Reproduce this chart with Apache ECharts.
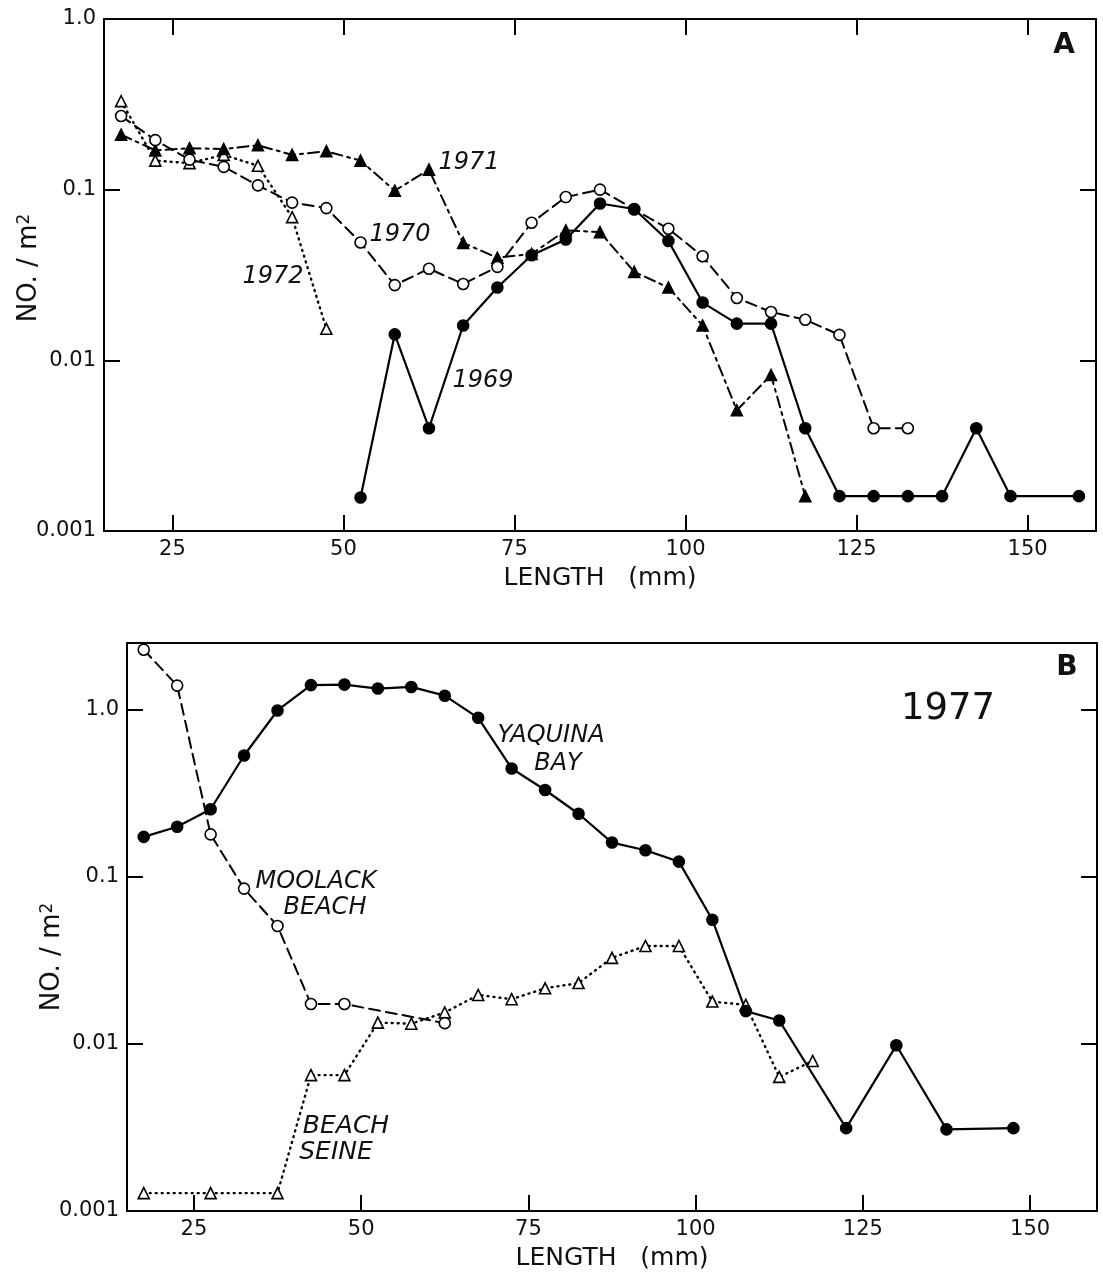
<!DOCTYPE html>
<html>
<head>
<meta charset="utf-8">
<script src="https://cdn.jsdelivr.net/npm/echarts@6/dist/echarts.min.js"></script>
<style>
html,body{margin:0;padding:0;background:#fff;}
#chart{width:1103px;height:1275px;}
</style>
</head>
<body>
<div id="chart"></div>
<script>
// ===== Panel A : density (NO./m^2) by length class (mm) =====
const lengthA1969  = [52.5,57.5,62.5,67.5,72.5,77.5,82.5,87.5,92.5,97.5,102.5,107.5,112.5,117.5,122.5,127.5,132.5,137.5,142.5,147.5,157.5];
const densityA1969 = [0.00157,0.0142,0.0040,0.016,0.0267,0.0413,0.051,0.083,0.077,0.050,0.0218,0.0164,0.0164,0.0040,0.0016,0.0016,0.0016,0.0016,0.0040,0.0016,0.0016];

const lengthA1970  = [17.5,22.5,27.5,32.5,37.5,42.5,47.5,52.5,57.5,62.5,67.5,72.5,77.5,82.5,87.5,92.5,97.5,102.5,107.5,112.5,117.5,122.5,127.5,132.5];
const densityA1970 = [0.27,0.195,0.15,0.136,0.106,0.084,0.078,0.049,0.0276,0.0344,0.028,0.0353,0.064,0.0905,0.100,0.0766,0.059,0.0407,0.0232,0.0192,0.0173,0.0141,0.0040,0.0040];

const lengthA1971  = [17.5,22.5,27.5,32.5,37.5,42.5,47.5,52.5,57.5,62.5,67.5,72.5,77.5,82.5,87.5,92.5,97.5,102.5,107.5,112.5,117.5];
const densityA1971 = [0.21,0.17,0.175,0.173,0.182,0.16,0.168,0.148,0.0986,0.131,0.0488,0.0399,0.042,0.0577,0.0564,0.033,0.0267,0.016,0.0051,0.0082,0.0016];

const lengthA1972  = [17.5,22.5,27.5,32.5,37.5,42.5,47.5];
const densityA1972 = [0.33,0.148,0.143,0.16,0.138,0.069,0.0153];

// ===== Panel B : 1977 =====
const lengthYaquina  = [17.5,22.5,27.5,32.5,37.5,42.5,47.5,52.5,57.5,62.5,67.5,72.5,77.5,82.5,87.5,92.5,97.5,102.5,107.5,112.5,122.5,130,137.5,147.5];
const densityYaquina = [0.173,0.199,0.253,0.531,0.987,1.40,1.41,1.335,1.365,1.21,0.892,0.444,0.33,0.238,0.160,0.144,0.123,0.0553,0.0157,0.0138,0.00313,0.0098,0.00308,0.00313];

const lengthMoolack  = [17.5,22.5,27.5,32.5,37.5,42.5,47.5,62.5];
const densityMoolack = [2.28,1.39,0.179,0.0848,0.0507,0.0173,0.0173,0.0133];

const lengthSeine  = [17.5,27.5,37.5,42.5,47.5,52.5,57.5,62.5,67.5,72.5,77.5,82.5,87.5,92.5,97.5,102.5,107.5,112.5,117.5];
const densitySeine = [0.00128,0.00128,0.00128,0.0065,0.0065,0.0134,0.0132,0.0154,0.0196,0.0185,0.0215,0.0231,0.0327,0.0385,0.0385,0.0179,0.0171,0.00634,0.0079];

// ===== Axis ticks / labels =====
const xTickValues = [25,50,75,100,125,150];
const yTickValues = [0.001,0.01,0.1,1];
const yTickLabels = ['0.001','0.01','0.1','1.0'];
const xAxisTitle = 'LENGTH   (mm)';
const yAxisTitle = '{n|NO. / m}{sup|2}';

const FONT = 'DejaVu Sans';
const INK = '#111';

function pairs(xs, ys){ return xs.map((x,i)=>[x, ys[i]]); }
function yLabel(v){
  const i = yTickValues.findIndex(t => Math.abs(Math.log10(v) - Math.log10(t)) < 1e-6);
  return i < 0 ? '' : yTickLabels[i];
}
const axisLineStyle = {color:'#000', width:2};

function bottomX(g){
  return {type:'value', gridIndex:g, position:'bottom', min:15, max:160,
    axisLine:{show:true, onZero:false, lineStyle:axisLineStyle},
    axisTick:{show:true, inside:true, length:16, customValues:xTickValues, lineStyle:axisLineStyle},
    axisLabel:{show:true, customValues:xTickValues, margin:8, color:INK, fontSize:21, fontFamily:FONT},
    splitLine:{show:false},
    name:xAxisTitle, nameLocation:'middle', nameGap:35, nameMoveOverlap:false,
    nameTextStyle:{fontSize:25, color:INK, fontFamily:FONT}};
}
function topX(g, ticks){
  return {type:'value', gridIndex:g, position:'top', min:15, max:160,
    axisLine:{show:true, onZero:false, lineStyle:axisLineStyle},
    axisTick:{show:ticks, inside:true, length:16, customValues:xTickValues, lineStyle:axisLineStyle},
    axisLabel:{show:false}, splitLine:{show:false}};
}
function leftY(g, max, namePad){
  return {type:'log', logBase:10, gridIndex:g, position:'left', min:0.001, max:max,
    axisLine:{show:true, onZero:false, lineStyle:axisLineStyle},
    axisTick:{show:true, inside:true, length:16, lineStyle:axisLineStyle},
    axisLabel:{show:true, margin:8, color:INK, fontSize:21, fontFamily:FONT, formatter:yLabel},
    splitLine:{show:false}, minorTick:{show:false},
    name:yAxisTitle, nameLocation:'middle', nameGap:62, nameRotate:90, nameMoveOverlap:false,
    nameTextStyle:{color:INK, fontFamily:FONT, padding:namePad,
      rich:{n:{fontSize:26, color:INK, fontFamily:FONT},
            sup:{fontSize:17, color:INK, fontFamily:FONT, verticalAlign:'top'}}}};
}
function rightY(g, max){
  return {type:'log', logBase:10, gridIndex:g, position:'right', min:0.001, max:max,
    axisLine:{show:true, onZero:false, lineStyle:axisLineStyle},
    axisTick:{show:true, inside:true, length:16, lineStyle:axisLineStyle},
    axisLabel:{show:false}, splitLine:{show:false}, minorTick:{show:false}};
}

const styles = {
  solidDot:   {symbol:'circle',   size:11, fill:'#000', dash:'solid', width:2.2},
  dashCircle: {symbol:'circle',   size:11, fill:'#fff', dash:[11,6], width:2},
  dashDotTri: {symbol:'triangle', size:11, fill:'#000', dash:[11,5,3,5], width:2},
  dotTri:     {symbol:'triangle', size:11, fill:'#fff', dash:[1,5], width:2.4}
};
function series(name, xs, ys, xi, yi, st){
  return {name:name, type:'line', xAxisIndex:xi, yAxisIndex:yi, data:pairs(xs, ys),
    symbol:st.symbol, symbolSize:st.size, showSymbol:true, animation:false, silent:true,
    lineStyle:{color:'#000', width:st.width, type:st.dash, cap:'round'},
    itemStyle:{color:st.fill, borderColor:'#000', borderWidth:1.6}};
}

function txt(text, x, y, size, style, weight){
  return {type:'text', x:x, y:y, silent:true, z:100,
    style:{text:text, fill:INK, font:(style||'normal')+' '+(weight||'normal')+' '+size+'px "'+FONT+'"',
      align:'center', verticalAlign:'middle', textAlign:'center', textVerticalAlign:'middle'}};
}

const option = {
  backgroundColor:'#fff',
  animation:false,
  grid:[
    {left:104, top:19, width:992, height:512, outerBoundsMode:'none', containLabel:false},
    {left:127, top:643, width:970, height:568, outerBoundsMode:'none', containLabel:false}
  ],
  xAxis:[bottomX(0), topX(0,true), bottomX(1), topX(1,false)],
  yAxis:[leftY(0,1,[0,0,0,14]), rightY(0,1), leftY(1,2.5,[0,60,0,0]), rightY(1,2.5)],
  series:[
    series('1972', lengthA1972, densityA1972, 0, 0, styles.dotTri),
    series('1971', lengthA1971, densityA1971, 0, 0, styles.dashDotTri),
    series('1970', lengthA1970, densityA1970, 0, 0, styles.dashCircle),
    series('1969', lengthA1969, densityA1969, 0, 0, styles.solidDot),
    series('Beach seine', lengthSeine, densitySeine, 2, 2, styles.dotTri),
    series('Moolack Beach', lengthMoolack, densityMoolack, 2, 2, styles.dashCircle),
    series('Yaquina Bay', lengthYaquina, densityYaquina, 2, 2, styles.solidDot)
  ],
  graphic:[
    txt('A', 1064, 46, 28, 'normal', 'bold'),
    txt('1971', 469, 163, 24, 'italic'),
    txt('1970', 400, 235, 24, 'italic'),
    txt('1972', 273, 277, 24, 'italic'),
    txt('1969', 483, 381, 24, 'italic'),
    txt('B', 1067, 668, 28, 'normal', 'bold'),
    txt('1977', 948, 709, 37, 'normal'),
    txt('YAQUINA', 551, 736, 24, 'italic'),
    txt('BAY', 558, 764, 24, 'italic'),
    txt('MOOLACK', 316, 882, 24, 'italic'),
    txt('BEACH', 325, 908, 24, 'italic'),
    txt('BEACH', 346, 1126, 25, 'italic'),
    txt('SEINE', 336, 1152, 25, 'italic')
  ]
};

const chart = echarts.init(document.getElementById('chart'), null, {renderer:'canvas'});
chart.setOption(option);
</script>
</body>
</html>
